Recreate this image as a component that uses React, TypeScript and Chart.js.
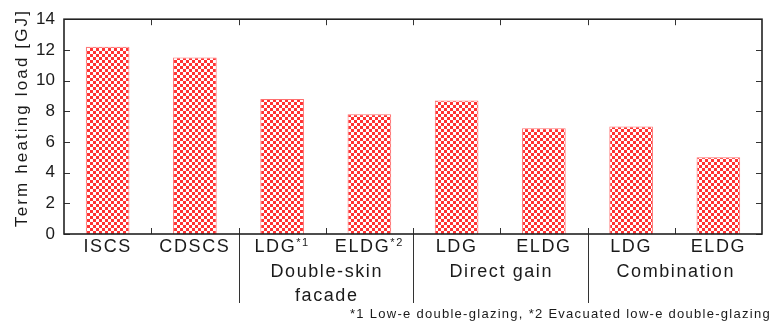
import React, { useEffect, useRef } from "react";
import { Chart, registerables } from "chart.js";

Chart.register(...registerables);

// Bar categories along the x axis and their annual heating loads [GJ]
const categories = ["ISCS", "CDSCS", "LDG", "ELDG", "LDG", "ELDG", "LDG", "ELDG"];
const noteMarks = ["", "", "*1", "*2", "", "", "", ""];
const heatingLoads = [12.2, 11.5, 8.8, 7.8, 8.7, 6.9, 7.0, 5.0];

// Groups of categories shown with a second label row
const groupLabels = [["Double-skin", "facade"], ["Direct gain"], ["Combination"]];
const groupStart = [2, 4, 6];
const groupEnd = [3, 5, 7];

const yTitle = "Term heating load [GJ]";
const footnote = "*1 Low-e double-glazing, *2 Evacuated low-e double-glazing";

const FONT = "'Liberation Sans', Arial, sans-serif";
const INK = "#1a1a1a";

function makeChecker(): CanvasPattern | string {
  const pc = document.createElement("canvas");
  pc.width = 6;
  pc.height = 6;
  const g = pc.getContext("2d");
  if (!g) return "#ff3333";
  g.fillStyle = "#ffffff";
  g.fillRect(0, 0, 6, 6);
  g.fillStyle = "#ff3333";
  g.fillRect(0, 0, 3, 3);
  g.fillRect(3, 3, 3, 3);
  const p = g.createPattern(pc, "repeat");
  return p || "#ff3333";
}

const decorations = {
  id: "decorations",
  afterDraw(chart: any) {
    const ctx: CanvasRenderingContext2D = chart.ctx;
    const { left, right, top, bottom } = chart.chartArea;
    const xs = chart.scales.x;
    const ys = chart.scales.y;
    const n = categories.length;
    const step = (right - left) / n;
    const tick = 6;

    ctx.save();
    // inward tick marks
    ctx.strokeStyle = "#333";
    ctx.lineWidth = 1;
    ctx.beginPath();
    for (let i = 1; i < n; i++) {
      const bx = Math.round(xs.getPixelForValue(i) - step / 2) + 0.5;
      ctx.moveTo(bx, bottom);
      ctx.lineTo(bx, bottom - tick);
      ctx.moveTo(bx, top);
      ctx.lineTo(bx, top + tick);
    }
    ys.ticks.forEach((t: any) => {
      const py = Math.round(ys.getPixelForValue(t.value)) + 0.5;
      ctx.moveTo(left, py);
      ctx.lineTo(left + tick, py);
      ctx.moveTo(right, py);
      ctx.lineTo(right - tick, py);
    });
    ctx.stroke();

    // group separators below the axis
    ctx.beginPath();
    groupStart.forEach((s) => {
      const bx = Math.round(xs.getPixelForValue(s) - step / 2) + 0.5;
      ctx.moveTo(bx, bottom);
      ctx.lineTo(bx, 303);
    });
    ctx.stroke();

    // frame
    ctx.strokeStyle = "#222";
    ctx.lineWidth = 1.6;
    ctx.strokeRect(left, top, right - left, bottom - top);

    // category labels with note marks
    ctx.fillStyle = INK;
    ctx.textBaseline = "alphabetic";
    ctx.textAlign = "left";
    (ctx as any).letterSpacing = "1.6px";
    categories.forEach((c, i) => {
      ctx.font = `18px ${FONT}`;
      const w1 = ctx.measureText(c).width;
      ctx.font = `11px ${FONT}`;
      const w2 = noteMarks[i] ? ctx.measureText(noteMarks[i]).width : 0;
      const cx = xs.getPixelForValue(i);
      const x0 = cx - (w1 + w2) / 2;
      ctx.font = `18px ${FONT}`;
      ctx.fillText(c, x0, 252);
      if (noteMarks[i]) {
        ctx.font = `11px ${FONT}`;
        ctx.fillText(noteMarks[i], x0 + w1, 246);
      }
    });

    // group labels
    ctx.font = `18px ${FONT}`;
    ctx.textAlign = "center";
    groupLabels.forEach((lines, g) => {
      const cx = (xs.getPixelForValue(groupStart[g]) + xs.getPixelForValue(groupEnd[g])) / 2 + 1;
      lines.forEach((ln, k) => {
        ctx.fillText(ln, cx, 277 + k * 24);
      });
    });

    // footnote, right aligned
    ctx.font = `13px ${FONT}`;
    (ctx as any).letterSpacing = "0px";
    const fw = ctx.measureText(footnote).width;
    const fs = Math.max(0, (421 - fw) / footnote.length);
    (ctx as any).letterSpacing = `${fs}px`;
    ctx.textAlign = "left";
    ctx.fillText(footnote, 350, 318);

    // y axis title
    ctx.font = `17px ${FONT}`;
    (ctx as any).letterSpacing = "0px";
    const tw = ctx.measureText(yTitle).width;
    const ts = Math.max(0, (218 - tw) / yTitle.length);
    (ctx as any).letterSpacing = `${ts}px`;
    ctx.translate(27, 119);
    ctx.rotate(-Math.PI / 2);
    ctx.textAlign = "center";
    ctx.fillText(yTitle, ts / 2, 0);
    ctx.restore();
  },
};

export default function App() {
  const ref = useRef<HTMLCanvasElement>(null);

  useEffect(() => {
    if (!ref.current) return;
    const fill = makeChecker();
    const chart = new Chart(ref.current, {
      type: "bar",
      data: {
        labels: categories,
        datasets: [
          {
            data: heatingLoads,
            backgroundColor: fill as any,
            borderColor: "rgba(255,110,110,1)",
            borderWidth: 1,
            barPercentage: 0.5,
            categoryPercentage: 1,
          },
        ],
      },
      options: {
        responsive: false,
        devicePixelRatio: 1,
        animation: false,
        layout: { padding: { left: 0, top: 17, right: 11, bottom: 90 } },
        plugins: {
          legend: { display: false },
          tooltip: { enabled: false },
        },
        scales: {
          x: {
            ticks: { display: false },
            grid: { display: false, drawTicks: false },
            border: { display: false },
            afterFit: (s: any) => {
              s.height = 0;
            },
          },
          y: {
            min: 0,
            max: 14,
            ticks: {
              stepSize: 2,
              padding: 9,
              color: INK,
              font: { family: FONT, size: 17 },
            },
            grid: { display: false, drawTicks: false },
            border: { display: false },
            afterFit: (s: any) => {
              s.width = 64;
            },
          },
        },
      },
      plugins: [decorations],
    });
    return () => chart.destroy();
  }, []);

  return (
    <div style={{ position: "absolute", left: 0, top: 0, width: 773, height: 324, background: "#fff" }}>
      <canvas ref={ref} width={773} height={324} />
    </div>
  );
}
